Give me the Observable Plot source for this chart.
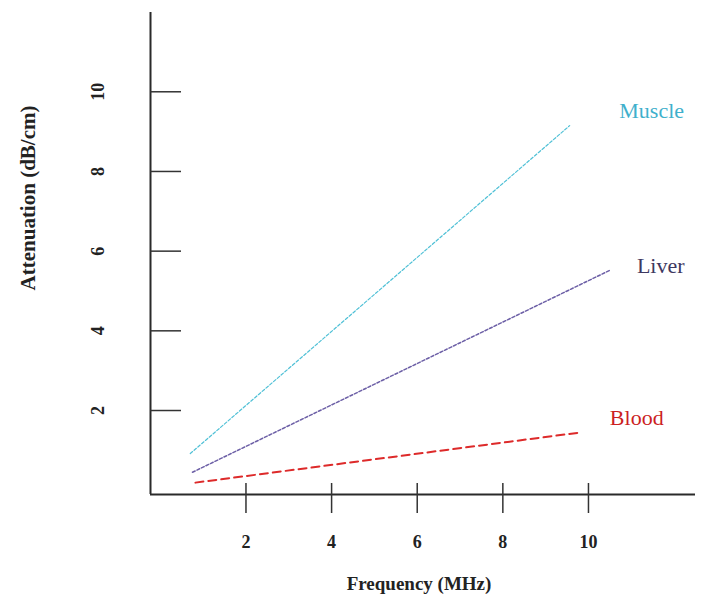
<!DOCTYPE html>
<html>
<head>
<meta charset="utf-8">
<script src="https://cdn.jsdelivr.net/npm/d3@7"></script>
<script src="https://cdn.jsdelivr.net/npm/@observablehq/plot@0.6"></script>
<style>
  html, body { margin: 0; padding: 0; background: #fff; }
  #chart svg { display: block; }
</style>
</head>
<body>
<div id="chart"></div>
<script>
// ---- data ----
const xTicks = [2, 4, 6, 8, 10];
const yTicks = [2, 4, 6, 8, 10];
const seriesNames = ["Muscle", "Liver", "Blood"];
const muscleFreq = [0.7, 9.56];
const muscleAtt = [0.92, 9.15];
const liverFreq = [0.75, 10.52];
const liverAtt = [0.45, 5.53];
const bloodFreq = [0.82, 9.82];
const bloodAtt = [0.19, 1.45];
const xTitle = "Frequency (MHz)";
const yTitle = "Attenuation (dB/cm)";

// ---- styles ----
const styles = {
  Muscle: {stroke: "#4fc0d6", text: "#3fb0cc", dash: "3,2", width: 1.2, dx: 82, dy: -15},
  Liver:  {stroke: "#6c5fa6", text: "#3e3860", dash: "3,2", width: 1.5, dx: 50, dy: -4},
  Blood:  {stroke: "#dd2a2a", text: "#cc1f1f", dash: "8,5", width: 2, dx: 56, dy: -14}
};

const raw = {Muscle: [muscleFreq, muscleAtt], Liver: [liverFreq, liverAtt], Blood: [bloodFreq, bloodAtt]};
const rows = seriesNames.flatMap(name => raw[name][0].map((f, i) => ({series: name, freq: f, att: raw[name][1][i]})));
const ends = seriesNames.map(name => rows.filter(r => r.series === name).at(-1));

const xDom = [-0.23, 12.5];
const yDom = [0.168, 11.99];
const yAxisBase = -0.108;
const serif = "'Liberation Serif', 'DejaVu Serif', serif";

const marks = [];
// axis lines
marks.push(Plot.ruleY([yAxisBase], {x1: xDom[0], x2: xDom[1], stroke: "#2a2a2a", strokeWidth: 2}));
marks.push(Plot.ruleX([xDom[0]], {y1: yAxisBase, y2: yDom[1], stroke: "#2a2a2a", strokeWidth: 2}));
// x ticks (crossing axis line)
marks.push(Plot.axisX(xTicks, {tickSize: 30, tickFormat: () => "", label: null, stroke: "#333", strokeWidth: 1.5}));
// y ticks (inward)
marks.push(Plot.axisY(yTicks, {tickSize: 31, dx: 31, tickFormat: () => "", label: null, stroke: "#333", strokeWidth: 1.5}));
// tick labels
marks.push(Plot.text(xTicks, {x: d => d, text: d => String(d), frameAnchor: "bottom", dy: 59,
  lineAnchor: "middle", textAnchor: "middle",
  fontFamily: serif, fontSize: 18, fontWeight: "bold", fill: "#222"}));
marks.push(Plot.text(yTicks, {y: d => d, text: d => String(d), frameAnchor: "left", dx: -52, rotate: -90,
  lineAnchor: "middle", textAnchor: "middle",
  fontFamily: serif, fontSize: 18, fontWeight: "bold", fill: "#222"}));
// axis titles
marks.push(Plot.text([xTitle], {text: d => d, frameAnchor: "bottom", dx: -4, dy: 100,
  lineAnchor: "middle", textAnchor: "middle",
  fontFamily: serif, fontSize: 19, fontWeight: "bold", fill: "#222"}));
marks.push(Plot.text([yTitle], {text: d => d, frameAnchor: "left", dx: -122, dy: -50, rotate: -90,
  lineAnchor: "middle", textAnchor: "middle",
  fontFamily: serif, fontSize: 21, fontWeight: "bold", fill: "#222"}));
// series lines + labels
for (const name of seriesNames) {
  const s = styles[name];
  marks.push(Plot.line(rows.filter(r => r.series === name), {x: "freq", y: "att",
    stroke: s.stroke, strokeWidth: s.width, strokeDasharray: s.dash}));
  marks.push(Plot.text(ends.filter(r => r.series === name), {x: "freq", y: "att", text: "series",
    dx: s.dx, dy: s.dy, fill: s.text, fontFamily: serif, fontSize: 22}));
}

const chart = Plot.plot({
  width: 708,
  height: 604,
  marginLeft: 150,
  marginRight: 13,
  marginTop: 12,
  marginBottom: 121,
  x: {domain: xDom, axis: null, label: null},
  y: {domain: yDom, axis: null, label: null},
  style: {background: "#fff"},
  marks
});
document.getElementById("chart").append(chart);
</script>
</body>
</html>
